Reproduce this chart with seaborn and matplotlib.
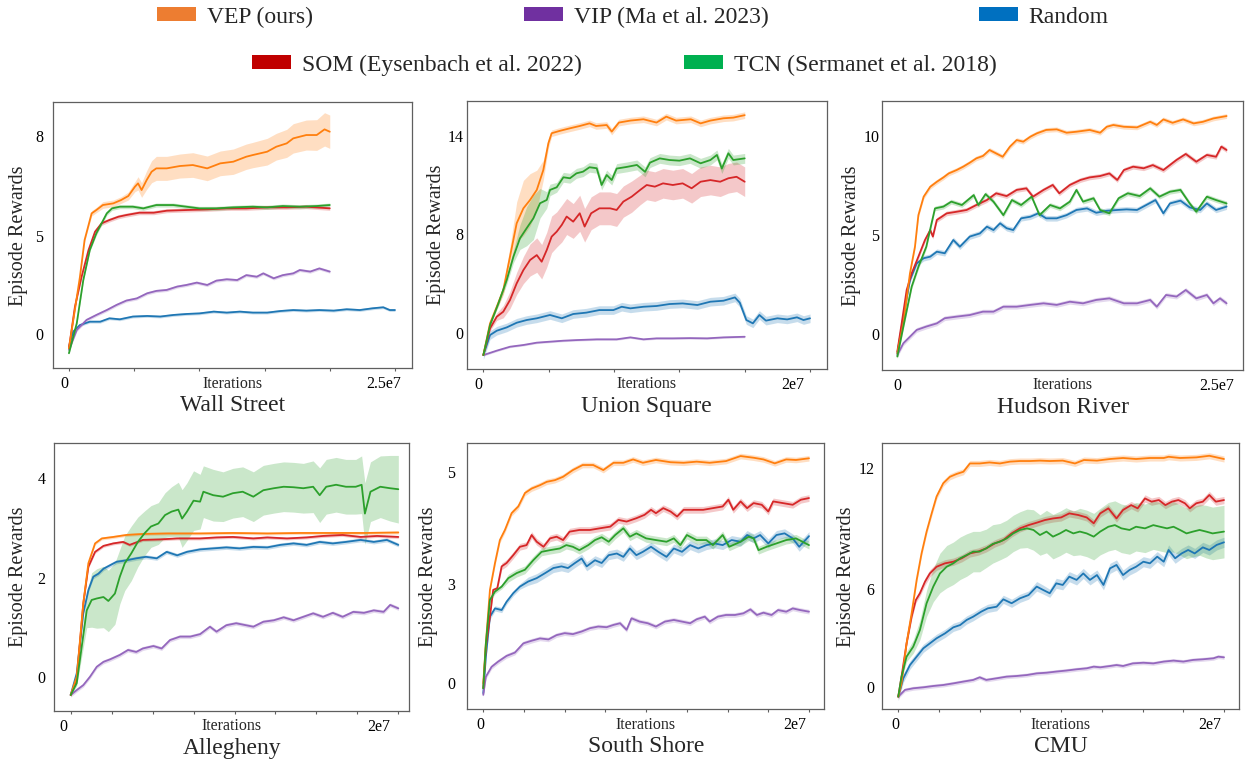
import numpy as np
import pandas as pd
import matplotlib
matplotlib.use("Agg")
import matplotlib.pyplot as plt
import matplotlib.transforms as mtransforms
from matplotlib.patches import Patch
import seaborn as sns

# Curvas de recompensa por episodio, seis entornos, cinco métodos
# x en millones de iteraciones

# --- Wall Street ---
ws_vep_x = [0, 0.84, 1.2, 1.74, 2.1, 2.6, 3.4, 4.0, 4.55, 5.06, 5.3, 5.57, 5.96, 6.34, 6.7, 7.5, 8.5, 9.5, 10.6, 11.6, 12.6, 13.6, 14.1, 15.2, 15.9, 16.7, 17.2, 18.2, 19.0, 19.6, 20.0]
ws_vep_y = [-0.71, 2.9, 4.78, 5.67, 5.77, 5.92, 5.97, 6.07, 6.19, 6.47, 6.57, 6.37, 6.67, 6.92, 7.02, 7.02, 7.09, 7.12, 7.02, 7.17, 7.22, 7.37, 7.42, 7.52, 7.67, 7.77, 7.92, 8.02, 8.02, 8.19, 8.12]
ws_vep_band = [0.05, 0.08, 0.08, 0.08, 0.08, 0.1, 0.1, 0.1, 0.12, 0.15, 0.2, 0.22, 0.28, 0.33, 0.36, 0.36, 0.36, 0.37, 0.37, 0.37, 0.38, 0.38, 0.38, 0.4, 0.4, 0.42, 0.44, 0.45, 0.46, 0.5, 0.5]
ws_tcn_x = [0, 0.6, 1.1, 1.6, 2.1, 2.5, 2.9, 3.3, 3.9, 4.9, 5.7, 6.7, 8.0, 9.0, 10.0, 11.3, 12.6, 14.1, 15.2, 16.4, 17.7, 19.0, 20.0]
ws_tcn_y = [-0.96, 0.56, 2.75, 4.27, 5.07, 5.37, 5.67, 5.82, 5.87, 5.87, 5.82, 5.92, 5.92, 5.87, 5.82, 5.82, 5.85, 5.87, 5.85, 5.89, 5.87, 5.89, 5.92]
ws_som_x = [0, 0.46, 0.97, 1.5, 2.0, 2.5, 3.1, 3.8, 4.4, 5.4, 6.5, 7.5, 9.0, 10.6, 12.1, 13.6, 15.2, 16.7, 18.2, 20.0]
ws_som_y = [-0.71, 1.4, 2.92, 4.27, 5.12, 5.37, 5.47, 5.57, 5.62, 5.69, 5.69, 5.75, 5.77, 5.79, 5.82, 5.82, 5.85, 5.85, 5.87, 5.82]
ws_vip_x = [0, 0.6, 1.35, 2.1, 2.9, 3.65, 4.4, 5.2, 6.0, 6.7, 7.5, 8.3, 9.0, 9.8, 10.6, 11.3, 12.1, 12.9, 13.6, 14.4, 14.9, 15.7, 16.4, 17.2, 17.7, 18.5, 19.2, 20.0]
ws_vip_y = [-0.79, 0.22, 0.73, 0.98, 1.23, 1.49, 1.71, 1.82, 2.08, 2.2, 2.25, 2.42, 2.5, 2.62, 2.5, 2.72, 2.79, 2.75, 3.0, 2.92, 3.09, 2.84, 3.0, 3.09, 3.26, 3.18, 3.34, 3.18]
ws_rnd_x = [0, 0.33, 0.84, 1.6, 2.4, 3.1, 3.9, 4.9, 6.0, 7.0, 8.0, 9.0, 10.0, 11.1, 12.1, 13.1, 14.1, 15.2, 16.2, 17.2, 18.2, 19.2, 20.3, 21.3, 22.3, 23.3, 24.1, 24.6, 25.0]
ws_rnd_y = [-0.62, 0.14, 0.47, 0.64, 0.64, 0.81, 0.76, 0.9, 0.93, 0.9, 0.98, 1.03, 1.06, 1.15, 1.1, 1.15, 1.1, 1.1, 1.18, 1.23, 1.2, 1.23, 1.2, 1.27, 1.23, 1.32, 1.37, 1.23, 1.23]

# --- Union Square ---
us_vep_x = [0, 0.41, 0.82, 1.22, 1.63, 2.04, 2.45, 2.86, 3.27, 3.67, 3.98, 4.18, 4.7, 5.3, 5.9, 6.5, 6.9, 7.55, 7.86, 8.3, 9.0, 9.8, 10.6, 11.2, 11.8, 12.7, 13.3, 13.9, 14.7, 15.3, 16.0]
us_vep_y = [-1.82, 0.76, 2.11, 3.47, 6.18, 8.67, 9.58, 10.09, 10.7, 11.91, 13.54, 14.15, 14.3, 14.45, 14.59, 14.75, 14.59, 14.65, 14.25, 14.8, 14.92, 15.0, 14.8, 15.16, 14.92, 15.0, 14.75, 14.92, 15.06, 15.1, 15.25]
us_vep_band = [0.05, 0.1, 0.2, 0.4, 0.8, 1.3, 1.7, 1.6, 1.2, 0.6, 0.3, 0.2, 0.2, 0.2, 0.2, 0.2, 0.2, 0.2, 0.2, 0.2, 0.2, 0.2, 0.2, 0.2, 0.2, 0.2, 0.2, 0.2, 0.2, 0.2, 0.2]
us_tcn_x = [0, 0.41, 0.92, 1.43, 1.84, 2.24, 2.65, 3.06, 3.47, 3.88, 4.08, 4.49, 4.9, 5.3, 5.7, 6.1, 6.5, 6.94, 7.24, 7.55, 7.86, 8.16, 8.78, 9.4, 9.9, 10.2, 10.8, 11.4, 12.0, 12.65, 13.3, 13.9, 14.3, 14.6, 15.0, 15.3, 16.0]
us_tcn_y = [-1.82, 0.62, 2.38, 4.28, 6.18, 7.67, 8.37, 8.97, 9.89, 10.09, 10.7, 10.86, 11.47, 11.41, 11.71, 11.81, 12.08, 12.02, 11.0, 11.61, 11.3, 12.0, 12.1, 12.22, 11.8, 12.36, 12.62, 12.52, 12.48, 12.62, 12.32, 12.52, 12.83, 12.0, 12.93, 12.52, 12.62]
us_tcn_band = [0.05, 0.1, 0.2, 0.35, 0.5, 0.9, 1.3, 1.4, 0.9, 0.5, 0.35, 0.3, 0.3, 0.3, 0.3, 0.3, 0.3, 0.3, 0.3, 0.3, 0.3, 0.3, 0.3, 0.3, 0.3, 0.3, 0.3, 0.3, 0.3, 0.3, 0.3, 0.3, 0.3, 0.3, 0.3, 0.3, 0.3]
us_som_x = [0, 0.41, 0.82, 1.22, 1.63, 2.04, 2.45, 2.86, 3.27, 3.57, 3.88, 4.18, 4.49, 4.8, 5.1, 5.5, 5.9, 6.2, 6.6, 7.1, 7.76, 8.16, 8.57, 9.08, 9.6, 10.0, 10.5, 11.0, 11.6, 12.2, 12.75, 13.3, 13.9, 14.5, 15.0, 15.5, 16.0]
us_som_y = [-1.82, 0.35, 1.3, 1.71, 2.66, 4.01, 5.09, 5.91, 6.31, 5.77, 6.72, 7.81, 8.16, 8.57, 9.08, 8.77, 9.28, 8.47, 9.28, 9.58, 9.58, 9.48, 9.99, 10.29, 10.7, 11.0, 10.9, 11.1, 11.0, 11.1, 10.8, 11.2, 11.3, 11.2, 11.41, 11.5, 11.2]
us_som_band = [0.05, 0.2, 0.3, 0.5, 0.7, 0.9, 1.1, 1.3, 1.4, 1.4, 1.4, 1.3, 1.2, 1.2, 1.1, 1.1, 1.1, 1.1, 1.0, 1.0, 1.0, 1.0, 0.95, 0.95, 0.9, 0.9, 0.9, 0.9, 0.9, 0.9, 0.9, 0.9, 0.9, 0.9, 0.9, 0.9, 0.9]
us_vip_x = [0, 0.82, 1.63, 2.45, 3.27, 4.08, 4.9, 5.7, 6.94, 8.16, 9.0, 9.8, 10.6, 11.6, 12.65, 13.7, 14.7, 16.0]
us_vip_y = [-1.82, -1.46, -1.14, -1.0, -0.81, -0.73, -0.65, -0.6, -0.54, -0.54, -0.38, -0.54, -0.46, -0.46, -0.44, -0.46, -0.38, -0.33]
us_rnd_x = [0, 0.41, 0.82, 1.43, 2.04, 2.65, 3.27, 4.08, 4.8, 5.5, 6.3, 7.1, 7.96, 8.47, 9.0, 9.8, 10.6, 11.4, 12.2, 13.1, 13.9, 14.7, 15.4, 15.7, 16.1, 16.5, 16.9, 17.3, 18.0, 18.6, 19.2, 19.6, 20.0]
us_rnd_y = [-1.82, -0.19, 0.16, 0.43, 0.81, 1.03, 1.17, 1.44, 1.17, 1.52, 1.63, 1.84, 1.84, 2.11, 1.98, 2.11, 2.17, 2.33, 2.38, 2.25, 2.52, 2.6, 2.87, 2.44, 1.03, 0.76, 1.44, 0.98, 1.17, 1.08, 1.25, 1.03, 1.17]

# --- Hudson River ---
hr_vep_x = [0, 0.46, 0.96, 1.34, 1.6, 2.0, 2.5, 3.0, 3.5, 3.9, 4.5, 5.0, 5.5, 6.0, 6.5, 7.0, 7.5, 8.0, 8.55, 9.06, 9.56, 10.1, 10.6, 11.3, 12.1, 12.85, 13.6, 14.6, 15.4, 15.9, 16.4, 17.2, 18.2, 19.2, 19.7, 20.2, 20.9, 21.7, 22.5, 23.2, 24.0, 25.0]
hr_vep_y = [-0.96, 0.55, 3.07, 4.41, 6.0, 6.93, 7.43, 7.68, 7.9, 8.1, 8.27, 8.44, 8.64, 8.86, 8.98, 9.28, 9.11, 8.94, 9.45, 9.78, 9.7, 9.95, 10.12, 10.29, 10.32, 10.15, 10.2, 10.29, 10.15, 10.45, 10.54, 10.45, 10.42, 10.7, 10.54, 10.82, 10.65, 10.82, 10.62, 10.7, 10.87, 10.99]
hr_som_x = [0, 0.33, 0.71, 1.09, 1.6, 2.1, 2.5, 2.7, 3.0, 3.37, 3.75, 4.5, 5.26, 6.0, 6.8, 7.5, 8.3, 9.06, 9.8, 10.3, 11.1, 11.8, 12.3, 13.1, 13.9, 14.6, 15.4, 16.1, 16.7, 17.2, 17.9, 18.7, 19.4, 20.2, 21.2, 21.9, 22.7, 23.5, 24.2, 24.6, 25.0]
hr_som_y = [-0.87, 0.55, 2.23, 3.07, 3.91, 4.75, 5.25, 4.92, 5.76, 5.92, 6.09, 6.17, 6.26, 6.51, 6.76, 7.1, 6.96, 7.27, 7.35, 6.93, 7.27, 7.52, 7.1, 7.52, 7.77, 7.9, 7.97, 8.1, 7.77, 8.27, 8.44, 8.36, 8.52, 8.27, 8.78, 9.08, 8.69, 9.03, 8.94, 9.45, 9.28]
hr_tcn_x = [0, 0.46, 1.09, 1.6, 2.2, 2.6, 2.86, 3.5, 4.1, 4.9, 5.8, 6.15, 6.7, 7.3, 8.05, 8.7, 9.4, 10.2, 10.8, 11.6, 12.35, 13.1, 13.6, 14.1, 14.9, 15.4, 16.1, 16.8, 17.5, 18.4, 19.2, 19.9, 20.7, 21.5, 22.2, 22.7, 23.5, 24.2, 25.0]
hr_tcn_y = [-1.12, 0.39, 2.4, 3.4, 4.41, 5.59, 6.34, 6.43, 6.68, 6.51, 7.01, 6.51, 7.06, 6.68, 6.0, 6.76, 6.51, 6.93, 6.0, 6.51, 6.34, 6.68, 7.27, 6.68, 6.85, 6.26, 6.09, 6.85, 7.1, 6.96, 7.35, 6.93, 7.18, 7.27, 6.59, 6.17, 6.93, 6.76, 6.59]
hr_rnd_x = [0, 0.46, 0.96, 1.47, 2.0, 2.5, 3.0, 3.6, 4.25, 4.75, 5.5, 6.27, 6.8, 7.3, 7.8, 8.3, 8.8, 9.4, 10.1, 10.7, 11.3, 12.1, 12.85, 13.6, 14.4, 15.1, 15.9, 16.7, 17.4, 18.2, 18.9, 19.6, 20.2, 20.7, 21.5, 22.2, 23.0, 23.5, 24.2, 25.0]
hr_rnd_y = [-0.96, 0.89, 2.73, 3.57, 3.83, 3.91, 4.16, 4.08, 4.75, 4.41, 4.92, 5.08, 5.42, 5.25, 5.59, 5.34, 5.25, 5.84, 5.92, 6.09, 5.84, 5.84, 6.0, 6.26, 6.34, 6.12, 6.22, 6.26, 6.29, 6.26, 6.51, 6.76, 6.09, 6.59, 6.73, 6.39, 6.26, 6.59, 6.26, 6.43]
hr_vip_x = [0, 0.46, 0.96, 1.47, 2.2, 3.0, 3.6, 4.5, 5.5, 6.5, 7.3, 8.05, 9.06, 10.1, 11.1, 12.1, 13.1, 14.1, 15.1, 16.1, 17.2, 18.2, 19.2, 19.7, 20.4, 21.2, 21.9, 22.7, 23.5, 24.0, 24.5, 25.0]
hr_vip_y = [-1.04, -0.45, -0.12, 0.22, 0.39, 0.55, 0.81, 0.89, 0.97, 1.14, 1.14, 1.39, 1.39, 1.48, 1.56, 1.48, 1.64, 1.56, 1.73, 1.81, 1.56, 1.56, 1.73, 1.39, 1.98, 1.9, 2.23, 1.81, 1.98, 1.56, 1.81, 1.56]

# --- Allegheny ---
al_vep_x = [0, 0.37, 0.77, 1.08, 1.49, 1.9, 2.6, 3.4, 4.4, 5.9, 7.9, 9.9, 12.0, 14.0, 16.0, 18.0, 20.0]
al_vep_y = [-0.37, 0.0, 1.48, 2.29, 2.69, 2.79, 2.82, 2.86, 2.88, 2.89, 2.89, 2.9, 2.89, 2.9, 2.9, 2.9, 2.91]
al_som_x = [0, 0.37, 0.77, 1.08, 1.49, 2.0, 2.6, 3.2, 3.6, 4.4, 5.45, 6.5, 7.9, 8.9, 9.9, 11.15, 12.0, 13.2, 14.4, 15.4, 16.6, 17.7, 18.7, 20.0]
al_som_y = [-0.37, -0.07, 1.48, 2.22, 2.52, 2.64, 2.69, 2.72, 2.66, 2.76, 2.77, 2.79, 2.79, 2.81, 2.82, 2.79, 2.81, 2.79, 2.81, 2.84, 2.86, 2.82, 2.84, 2.82]
al_rnd_x = [0, 0.37, 0.77, 1.08, 1.38, 1.69, 2.0, 2.4, 2.8, 3.4, 4.0, 4.6, 5.25, 5.86, 6.5, 7.1, 7.9, 8.7, 9.5, 10.3, 11.15, 12.0, 12.8, 13.6, 14.4, 15.2, 16.0, 16.8, 17.7, 18.5, 19.3, 20.0]
al_rnd_y = [-0.37, 0.07, 1.28, 1.75, 2.02, 2.08, 2.18, 2.25, 2.32, 2.35, 2.39, 2.42, 2.39, 2.52, 2.45, 2.52, 2.57, 2.59, 2.61, 2.59, 2.62, 2.61, 2.66, 2.69, 2.66, 2.72, 2.69, 2.72, 2.76, 2.72, 2.76, 2.66]
al_tcn_x = [0, 0.37, 0.67, 0.98, 1.28, 1.59, 2.0, 2.3, 2.7, 3.0, 3.3, 3.7, 4.1, 4.5, 4.9, 5.35, 5.76, 6.16, 6.57, 6.8, 7.1, 7.5, 7.9, 8.1, 8.7, 9.3, 9.9, 10.5, 11.15, 11.76, 12.4, 13.0, 13.6, 14.2, 14.8, 15.2, 15.6, 16.2, 16.8, 17.4, 17.76, 17.96, 18.3, 18.9, 19.5, 20.0]
al_tcn_y = [-0.37, -0.13, 0.6, 1.34, 1.55, 1.58, 1.61, 1.53, 1.68, 2.02, 2.29, 2.49, 2.72, 2.89, 3.03, 3.09, 3.26, 3.33, 3.37, 3.19, 3.33, 3.55, 3.53, 3.73, 3.66, 3.63, 3.7, 3.73, 3.63, 3.76, 3.8, 3.83, 3.82, 3.8, 3.83, 3.66, 3.83, 3.87, 3.83, 3.83, 3.87, 3.29, 3.73, 3.83, 3.8, 3.78]
al_tcn_band = [0.02, 0.05, 0.2, 0.35, 0.55, 0.6, 0.62, 0.62, 0.62, 0.55, 0.55, 0.55, 0.5, 0.45, 0.42, 0.42, 0.45, 0.5, 0.55, 0.58, 0.58, 0.6, 0.55, 0.52, 0.52, 0.5, 0.5, 0.5, 0.5, 0.5, 0.5, 0.5, 0.5, 0.5, 0.52, 0.55, 0.55, 0.55, 0.55, 0.55, 0.58, 0.62, 0.6, 0.62, 0.66, 0.68]
al_vip_x = [0, 0.37, 0.77, 1.18, 1.59, 2.0, 2.4, 3.0, 3.5, 4.0, 4.4, 5.05, 5.55, 6.06, 6.67, 7.3, 7.9, 8.5, 8.9, 9.5, 10.1, 10.7, 11.15, 11.76, 12.4, 13.0, 13.6, 14.2, 14.8, 15.4, 16.0, 16.6, 17.25, 17.9, 18.5, 19.1, 19.5, 20.0]
al_vip_y = [-0.37, -0.27, -0.17, 0.0, 0.2, 0.3, 0.35, 0.44, 0.54, 0.5, 0.57, 0.62, 0.57, 0.74, 0.81, 0.81, 0.86, 1.01, 0.91, 1.04, 1.08, 1.04, 1.01, 1.11, 1.14, 1.2, 1.14, 1.21, 1.28, 1.21, 1.29, 1.21, 1.31, 1.29, 1.34, 1.31, 1.45, 1.38]

# --- South Shore ---
ss_vep_x = [0, 0.16, 0.41, 0.72, 1.02, 1.33, 1.74, 2.15, 2.56, 2.97, 3.48, 3.9, 4.4, 4.9, 5.5, 6.1, 6.75, 7.37, 8.0, 8.6, 9.2, 9.8, 10.6, 11.5, 12.3, 13.1, 13.9, 14.9, 15.8, 16.6, 17.2, 17.9, 18.6, 19.2, 20.0]
ss_vep_y = [0.0, 1.21, 2.83, 3.38, 3.79, 3.97, 4.27, 4.39, 4.63, 4.71, 4.77, 4.83, 4.86, 4.92, 5.04, 5.13, 5.13, 5.04, 5.17, 5.17, 5.23, 5.17, 5.22, 5.18, 5.17, 5.19, 5.17, 5.2, 5.29, 5.26, 5.23, 5.16, 5.23, 5.22, 5.25]
ss_som_x = [0, 0.16, 0.41, 0.61, 0.86, 1.13, 1.43, 1.84, 2.25, 2.66, 2.97, 3.28, 3.7, 4.1, 4.5, 4.9, 5.3, 5.9, 6.55, 7.16, 7.8, 8.3, 8.8, 9.4, 9.9, 10.3, 10.6, 11.05, 11.5, 11.9, 12.3, 12.9, 13.5, 14.1, 14.7, 15.05, 15.35, 15.8, 16.2, 16.6, 17.1, 17.5, 17.8, 18.4, 19.0, 19.5, 20.0]
ss_som_y = [-0.15, 1.11, 2.02, 2.83, 2.88, 3.32, 3.38, 3.52, 3.67, 3.7, 3.88, 3.76, 3.67, 3.82, 3.85, 3.79, 3.94, 3.97, 3.97, 4.0, 4.03, 4.15, 4.12, 4.18, 4.24, 4.33, 4.27, 4.36, 4.3, 4.21, 4.33, 4.33, 4.33, 4.36, 4.39, 4.51, 4.33, 4.48, 4.36, 4.45, 4.42, 4.3, 4.48, 4.45, 4.42, 4.51, 4.54]
ss_tcn_x = [0, 0.16, 0.41, 0.72, 1.13, 1.54, 2.05, 2.56, 3.07, 3.58, 4.1, 4.7, 5.1, 5.5, 5.9, 6.45, 6.86, 7.27, 7.7, 8.1, 8.6, 9.0, 9.4, 10.0, 10.6, 11.25, 11.7, 12.1, 12.5, 13.1, 13.7, 14.1, 14.7, 15.1, 15.8, 16.3, 16.6, 16.9, 17.4, 18.0, 18.6, 19.2, 20.0]
ss_tcn_y = [-0.15, 1.21, 2.53, 2.78, 2.93, 3.11, 3.2, 3.26, 3.43, 3.58, 3.61, 3.64, 3.7, 3.67, 3.61, 3.7, 3.79, 3.84, 3.76, 3.88, 4.0, 3.85, 3.91, 3.82, 3.79, 3.76, 3.82, 3.7, 3.88, 3.79, 3.79, 3.7, 3.88, 3.67, 3.76, 3.85, 3.82, 3.61, 3.67, 3.73, 3.79, 3.82, 3.7]
ss_rnd_x = [0, 0.16, 0.41, 0.72, 1.13, 1.43, 1.84, 2.25, 2.76, 3.28, 3.8, 4.3, 4.8, 5.2, 5.63, 6.04, 6.35, 6.86, 7.27, 7.7, 8.2, 8.6, 9.0, 9.4, 9.8, 10.3, 10.75, 11.25, 11.7, 12.2, 12.7, 13.2, 13.7, 14.2, 14.7, 15.25, 15.8, 16.2, 16.6, 17.0, 17.5, 18.0, 18.5, 19.0, 19.4, 20.0]
ss_rnd_y = [-0.3, 0.81, 2.02, 2.27, 2.22, 2.47, 2.73, 2.93, 3.05, 3.11, 3.2, 3.29, 3.32, 3.29, 3.38, 3.46, 3.32, 3.43, 3.38, 3.52, 3.55, 3.49, 3.64, 3.52, 3.58, 3.67, 3.58, 3.49, 3.64, 3.58, 3.7, 3.64, 3.7, 3.73, 3.7, 3.79, 3.76, 3.88, 3.82, 3.88, 3.73, 3.88, 3.91, 3.82, 3.67, 3.86]
ss_vip_x = [0, 0.16, 0.51, 0.92, 1.43, 1.94, 2.46, 2.97, 3.48, 4.0, 4.5, 5.0, 5.5, 6.04, 6.55, 7.06, 7.57, 8.0, 8.4, 8.8, 9.1, 9.6, 10.1, 10.6, 11.15, 11.7, 12.2, 12.7, 13.1, 13.6, 13.9, 14.4, 14.9, 15.45, 15.97, 16.4, 16.8, 17.2, 17.7, 18.1, 18.6, 19.0, 19.45, 20.0]
ss_vip_y = [-0.35, 0.2, 0.5, 0.66, 0.83, 0.93, 1.21, 1.29, 1.36, 1.33, 1.46, 1.52, 1.49, 1.57, 1.67, 1.72, 1.7, 1.77, 1.82, 1.62, 1.97, 1.87, 1.82, 1.72, 1.87, 1.92, 1.87, 1.82, 1.94, 2.02, 1.87, 2.02, 2.07, 2.07, 2.12, 2.24, 2.07, 2.14, 2.07, 2.22, 2.17, 2.27, 2.22, 2.17]

# --- CMU ---
cm_vep_x = [0, 0.2, 0.51, 0.82, 1.13, 1.43, 1.74, 2.05, 2.35, 2.76, 3.17, 3.58, 4.0, 4.4, 5.0, 5.6, 6.24, 6.86, 7.47, 8.1, 8.7, 9.3, 10.1, 10.85, 11.4, 12.2, 13.0, 13.8, 14.6, 15.45, 16.3, 16.6, 17.3, 18.3, 19.1, 20.0]
cm_vep_y = [-0.57, 0.24, 2.68, 4.51, 6.45, 7.76, 8.84, 9.74, 10.57, 11.23, 11.55, 11.69, 11.8, 12.21, 12.21, 12.26, 12.21, 12.3, 12.33, 12.33, 12.35, 12.33, 12.35, 12.21, 12.38, 12.35, 12.43, 12.48, 12.43, 12.48, 12.48, 12.54, 12.48, 12.51, 12.59, 12.43]
cm_som_x = [0, 0.2, 0.51, 0.82, 1.08, 1.33, 1.64, 1.94, 2.35, 2.87, 3.38, 3.9, 4.4, 4.9, 5.4, 5.94, 6.45, 6.96, 7.47, 8.0, 8.5, 9.0, 9.5, 10.0, 10.5, 11.05, 11.57, 12.0, 12.4, 12.9, 13.4, 13.8, 14.3, 14.7, 15.15, 15.55, 16.0, 16.4, 16.8, 17.2, 17.6, 17.9, 18.3, 18.7, 19.1, 19.5, 20.0]
cm_som_y = [-0.57, 0.65, 2.68, 4.31, 5.33, 5.74, 6.36, 6.77, 7.1, 7.27, 7.35, 7.52, 7.76, 7.85, 8.01, 8.26, 8.42, 8.75, 9.0, 9.16, 9.28, 9.41, 9.49, 9.54, 9.74, 9.66, 9.54, 9.25, 9.74, 9.99, 9.49, 9.91, 10.15, 9.99, 10.48, 10.32, 10.4, 10.15, 10.32, 10.4, 10.24, 9.99, 10.24, 10.32, 10.65, 10.32, 10.4]
cm_tcn_x = [0, 0.2, 0.51, 0.92, 1.33, 1.74, 2.15, 2.56, 2.97, 3.38, 3.8, 4.2, 4.6, 5.0, 5.4, 5.8, 6.24, 6.65, 7.06, 7.47, 7.9, 8.3, 8.7, 9.1, 9.5, 9.93, 10.3, 10.75, 11.15, 11.57, 12.0, 12.4, 12.9, 13.3, 13.7, 14.2, 14.6, 15.15, 15.66, 16.07, 16.5, 16.9, 17.3, 17.7, 18.1, 18.5, 18.9, 19.3, 20.0]
cm_tcn_y = [-0.57, 0.65, 1.87, 2.48, 3.5, 5.13, 6.12, 6.77, 7.1, 7.27, 7.52, 7.68, 7.85, 7.85, 8.01, 8.23, 8.34, 8.5, 8.75, 8.92, 9.0, 8.92, 8.67, 8.84, 8.59, 8.75, 8.92, 8.75, 8.84, 8.75, 8.59, 8.84, 9.08, 9.16, 9.0, 8.92, 9.08, 9.0, 9.16, 9.08, 9.0, 9.08, 8.92, 8.75, 8.84, 8.92, 8.84, 8.75, 8.84]
cm_tcn_band = [0.05, 0.2, 0.3, 0.4, 0.6, 0.8, 0.9, 1.0, 1.05, 1.05, 1.05, 1.05, 1.0, 1.0, 0.95, 0.95, 0.9, 0.9, 0.9, 0.9, 0.95, 1.0, 1.0, 1.05, 1.1, 1.1, 1.1, 1.1, 1.15, 1.15, 1.15, 1.15, 1.2, 1.2, 1.2, 1.2, 1.2, 1.2, 1.2, 1.2, 1.2, 1.25, 1.25, 1.25, 1.25, 1.25, 1.3, 1.3, 1.3]
cm_rnd_x = [0, 0.31, 0.72, 1.13, 1.54, 1.94, 2.35, 2.87, 3.38, 3.8, 4.2, 4.6, 5.1, 5.5, 6.04, 6.45, 6.96, 7.47, 8.0, 8.5, 8.9, 9.3, 9.7, 10.1, 10.5, 10.95, 11.36, 11.77, 12.2, 12.6, 13.0, 13.4, 13.8, 14.2, 14.6, 15.05, 15.45, 15.9, 16.3, 16.6, 17.0, 17.4, 17.8, 18.2, 18.7, 19.1, 19.55, 20.0]
cm_rnd_y = [-0.57, 0.55, 1.36, 1.87, 2.38, 2.68, 2.99, 3.29, 3.66, 3.8, 4.11, 4.31, 4.62, 4.82, 4.92, 5.37, 5.13, 5.43, 5.63, 6.12, 5.94, 5.74, 6.28, 6.2, 6.61, 6.45, 6.77, 6.45, 6.69, 6.2, 7.02, 7.19, 6.69, 6.94, 7.1, 7.35, 7.27, 7.6, 7.35, 7.93, 7.52, 7.76, 7.93, 7.76, 8.06, 7.93, 8.18, 8.31]
cm_vip_x = [0, 0.41, 0.92, 1.54, 2.15, 2.76, 3.38, 4.0, 4.6, 5.0, 5.4, 6.04, 6.65, 7.27, 7.9, 8.5, 9.1, 9.7, 10.3, 10.95, 11.57, 12.0, 12.4, 13.0, 13.4, 13.8, 14.4, 15.05, 15.66, 16.3, 16.9, 17.5, 18.1, 18.7, 19.35, 19.65, 20.0]
cm_vip_y = [-0.57, -0.16, -0.06, 0.0, 0.08, 0.14, 0.24, 0.35, 0.45, 0.61, 0.45, 0.55, 0.65, 0.69, 0.75, 0.85, 0.89, 0.96, 1.02, 1.1, 1.16, 1.26, 1.22, 1.3, 1.36, 1.3, 1.46, 1.5, 1.46, 1.57, 1.63, 1.57, 1.67, 1.71, 1.77, 1.87, 1.83]

metodos = ["VEP", "VIP", "Random", "SOM", "TCN"]
etiquetas = ["VEP (ours)", "VIP (Ma et al. 2023)", "Random",
             "SOM (Eysenbach et al. 2022)", "TCN (Sermanet et al. 2018)"]
orden_dibujo = ["Random", "VIP", "SOM", "VEP", "TCN"]
col_lineas = {"VEP": "#ff7f0e", "VIP": "#9467bd", "Random": "#1f77b4",
              "SOM": "#d62728", "TCN": "#2ca02c"}
col_leyenda = {"VEP": "#ED7D31", "VIP": "#7030A0", "Random": "#0070C0",
               "SOM": "#C00000", "TCN": "#00B050"}

paneles = [
    dict(nombre="Wall Street",
         series={"VEP": (ws_vep_x, ws_vep_y, ws_vep_band), "TCN": (ws_tcn_x, ws_tcn_y, 0.06),
                 "SOM": (ws_som_x, ws_som_y, 0.06), "VIP": (ws_vip_x, ws_vip_y, 0.08),
                 "Random": (ws_rnd_x, ws_rnd_y, 0.07)},
         yvals=[0, 5, 8], ypos=[0, 98.6, 198.6],
         caja=(53.3, 102.3, 412.3, 368.3), cero=334.3, xlim=(-1.2, 26.33),
         xticks=[0, 5, 10, 15, 20, 25], xfin="2.5e7", marcas=True,
         ylab_dx=35, ypad=10, dx_lab=(-5, -11)),
    dict(nombre="Union Square",
         series={"VEP": (us_vep_x, us_vep_y, us_vep_band), "TCN": (us_tcn_x, us_tcn_y, us_tcn_band),
                 "SOM": (us_som_x, us_som_y, us_som_band), "VIP": (us_vip_x, us_vip_y, 0.08),
                 "Random": (us_rnd_x, us_rnd_y, 0.35)},
         yvals=[0, 8, 14], ypos=[0, 98.4, 197.0],
         caja=(466.7, 101.0, 826.7, 369.0), cero=332.7, xlim=(-1.02, 21.02),
         xticks=[0, 4, 8, 12, 16, 20], xfin="2e7", marcas=True,
         ylab_dx=30, ypad=3, dx_lab=(-5, -17)),
    dict(nombre="Hudson River",
         series={"VEP": (hr_vep_x, hr_vep_y, 0.12), "TCN": (hr_tcn_x, hr_tcn_y, 0.12),
                 "SOM": (hr_som_x, hr_som_y, 0.12), "VIP": (hr_vip_x, hr_vip_y, 0.12),
                 "Random": (hr_rnd_x, hr_rnd_y, 0.14)},
         yvals=[0, 5, 10], ypos=[0, 99.3, 198.6],
         caja=(882.3, 100.7, 1243.3, 370.0), cero=334.3, xlim=(-1.14, 26.27),
         xticks=[0, 25], xfin="2.5e7", marcas=False,
         ylab_dx=30.6, ypad=3, dx_lab=(0, -10)),
    dict(nombre="Allegheny",
         series={"VEP": (al_vep_x, al_vep_y, 0.03), "TCN": (al_tcn_x, al_tcn_y, al_tcn_band),
                 "SOM": (al_som_x, al_som_y, 0.03), "VIP": (al_vip_x, al_vip_y, 0.04),
                 "Random": (al_rnd_x, al_rnd_y, 0.04)},
         yvals=[0, 2, 4], ypos=[0, 99.0, 198.4],
         caja=(54.3, 443.3, 409.3, 710.7), cero=676.7, xlim=(-1.0, 20.67),
         xticks=[0, 2.5, 5, 7.5, 10, 12.5, 15, 17.5, 20], xfin="2e7", marcas=True,
         ylab_dx=36, ypad=9, dx_lab=(-7, -20)),
    dict(nombre="South Shore",
         series={"VEP": (ss_vep_x, ss_vep_y, 0.05), "TCN": (ss_tcn_x, ss_tcn_y, 0.07),
                 "SOM": (ss_som_x, ss_som_y, 0.06), "VIP": (ss_vip_x, ss_vip_y, 0.07),
                 "Random": (ss_rnd_x, ss_rnd_y, 0.08)},
         yvals=[0, 3, 5], ypos=[0, 99.0, 211.0],
         caja=(467.3, 443.3, 824.3, 709.3), cero=683.3, xlim=(-0.98, 20.94),
         xticks=[0, 2.5, 5, 7.5, 10, 12.5, 15, 17.5, 20], xfin="2e7", marcas=True,
         ylab_dx=39, ypad=12, dx_lab=(-3, -14)),
    dict(nombre="CMU",
         series={"VEP": (cm_vep_x, cm_vep_y, 0.15), "TCN": (cm_tcn_x, cm_tcn_y, cm_tcn_band),
                 "SOM": (cm_som_x, cm_som_y, 0.18), "VIP": (cm_vip_x, cm_vip_y, 0.12),
                 "Random": (cm_rnd_x, cm_rnd_y, 0.25)},
         yvals=[0, 6, 12], ypos=[0, 98.3, 219.6],
         caja=(882.3, 443.3, 1239.3, 709.3), cero=687.3, xlim=(-0.98, 20.94),
         xticks=[0, 2.5, 5, 7.5, 10, 12.5, 15, 17.5, 20], xfin="2e7", marcas=True,
         ylab_dx=36, ypad=8, dx_lab=(-3, -14)),
]


def tramos(a, b):
    # escala lineal por tramos entre las marcas del eje y (con extrapolación)
    a = np.asarray(a, float)
    b = np.asarray(b, float)
    s0 = (b[1] - b[0]) / (a[1] - a[0])
    s1 = (b[-1] - b[-2]) / (a[-1] - a[-2])

    def f(v):
        v = np.asarray(v, float)
        out = np.interp(v, a, b)
        out = np.where(v < a[0], b[0] + (v - a[0]) * s0, out)
        out = np.where(v > a[-1], b[-1] + (v - a[-1]) * s1, out)
        return out
    return f


sns.set_theme(style="white")
plt.rcParams["font.family"] = ["Liberation Serif", "DejaVu Serif"]

W, H = 1245, 762
fig = plt.figure(figsize=(W / 100, H / 100), dpi=100)
gris = "#5f5f5f"

for p in paneles:
    l, t, r, b = p["caja"]
    ax = fig.add_axes([l / W, 1 - b / H, (r - l) / W, (b - t) / H])
    ida = tramos(p["yvals"], p["ypos"])
    vuelta = tramos(p["ypos"], p["yvals"])
    ax.set_yscale("function", functions=(ida, vuelta))

    filas = []
    for m in orden_dibujo:
        xs, ys, banda = p["series"][m]
        xs = np.array(xs) * 1e6
        ys = np.array(ys)
        bw = np.array(banda) if np.ndim(banda) else np.full(len(ys), banda)
        ax.fill_between(xs, ys - bw, ys + bw, color=col_lineas[m], alpha=0.25, lw=0)
        filas.append(pd.DataFrame({"x": xs, "y": ys, "metodo": m}))
    df = pd.concat(filas, ignore_index=True)
    sns.lineplot(data=df, x="x", y="y", hue="metodo", hue_order=orden_dibujo,
                 palette=col_lineas, estimator=None, errorbar=None, sort=False,
                 legend=False, linewidth=1.3, ax=ax)

    ax.set_xlim(p["xlim"][0] * 1e6, p["xlim"][1] * 1e6)
    ax.set_ylim(float(vuelta(p["cero"] - b)), float(vuelta(p["cero"] - t)))

    ticks = [v * 1e6 for v in p["xticks"]]
    ax.set_xticks(ticks)
    ax.set_xticklabels(["0"] + [""] * (len(ticks) - 2) + [p["xfin"]])
    ax.set_yticks(p["yvals"])
    ax.set_yticklabels([str(v) for v in p["yvals"]])
    ax.tick_params(axis="x", bottom=True, length=2.4 if p["marcas"] else 0,
                   width=0.8, color=gris, pad=3.5 if p["marcas"] else 5.9,
                   labelsize=11.5, labelcolor="black")
    ax.tick_params(axis="y", left=True, length=0, pad=p["ypad"] * 0.72,
                   labelsize=11.5, labelcolor="black")
    labs = ax.get_xticklabels()
    for lab, dx in ((labs[0], p["dx_lab"][0]), (labs[-1], p["dx_lab"][1])):
        lab.set_transform(lab.get_transform() +
                          mtransforms.ScaledTranslation(dx / 100, 0, fig.dpi_scale_trans))
    ax.set_xlabel("")
    ax.set_ylabel("")

    for s in ax.spines.values():
        s.set_visible(True)
        s.set_color(gris)
        s.set_linewidth(0.9)

    alto = b - t
    ancho = r - l
    ax.text(0.5, -15.5 / alto, "Iterations", transform=ax.transAxes,
            ha="center", va="center", fontsize=11.5)
    ax.text(0.5, -37.5 / alto, p["nombre"], transform=ax.transAxes,
            ha="center", va="center", fontsize=17)
    ax.text(-p["ylab_dx"] / ancho, 0.5, "Episode Rewards", transform=ax.transAxes,
            rotation=90, ha="center", va="center", fontsize=14.5)

# leyenda en dos filas
manejadores = {m: Patch(facecolor=col_leyenda[m], edgecolor="none") for m in metodos}
nombres = dict(zip(metodos, etiquetas))
fila1 = ["VEP", "VIP", "Random"]
fila2 = ["SOM", "TCN"]
fig.legend([manejadores[m] for m in fila1], [nombres[m] for m in fila1],
           loc="center", bbox_to_anchor=(633 / W, 1 - 17 / H), ncol=3, frameon=False,
           fontsize=17, handlelength=1.65, handleheight=0.55, handletextpad=0.47,
           columnspacing=8.9, borderpad=0, borderaxespad=0)
fig.legend([manejadores[m] for m in fila2], [nombres[m] for m in fila2],
           loc="center", bbox_to_anchor=(624.5 / W, 1 - 65 / H), ncol=2, frameon=False,
           fontsize=17, handlelength=1.65, handleheight=0.55, handletextpad=0.47,
           columnspacing=4.3, borderpad=0, borderaxespad=0)

fig.savefig("out.png", dpi=100, facecolor="white")
